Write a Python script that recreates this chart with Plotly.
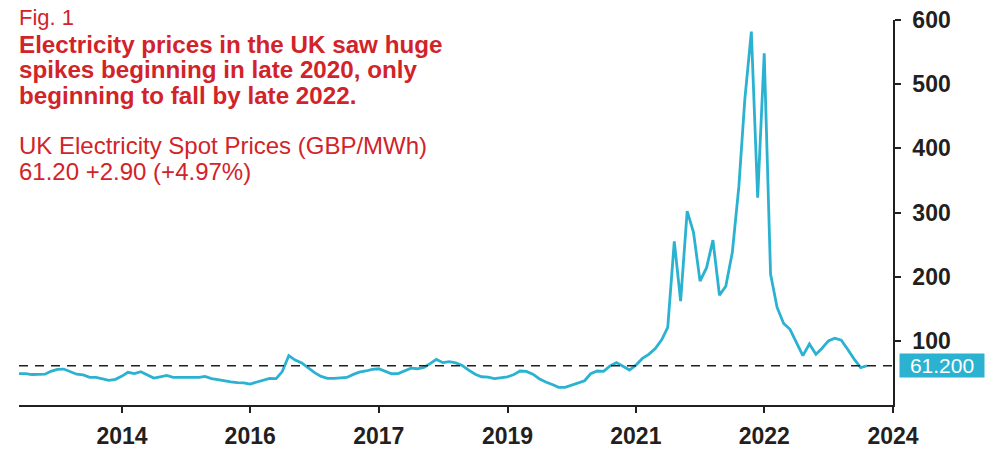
import pandas as pd
import plotly.graph_objects as go

# Monthly UK electricity spot prices (GBP/MWh)
start_month = "2012-10-01"
prices = [
    49, 49, 47.5, 48, 48, 52.5, 55.5, 56, 52, 48, 47, 43,
    43, 41, 38.5, 40, 45, 51, 49, 52, 47, 42, 44, 46,
    43, 43, 43, 43, 43, 44.5, 41, 39.5, 37.5, 36, 35, 34.5,
    32.7, 36, 38.5, 41.5, 41, 52, 77, 70, 65.5, 58, 50.5, 44.5,
    41.5, 41.5, 42, 43, 47.7, 51.3, 53, 55.5, 56.5, 52.4, 48.7, 49,
    53.4, 57.5, 56.5, 58.6, 64.8, 71, 66, 67.5, 65.5, 61.7, 54.4, 48,
    44, 43.5, 41, 43, 44, 47, 53, 52.4, 48, 41, 35.8, 32,
    27.5, 27.5, 31, 34.2, 37.8, 48.7, 53, 52.5, 61, 66, 59.6, 54.4,
    62, 72.6, 79, 88, 102, 121, 255, 162, 302, 269, 193, 214,
    257, 171, 185, 238, 341, 476, 582, 323, 548, 204, 152, 127,
    118, 97.5, 77, 95, 79, 88, 100, 104, 101, 87, 71.5, 58.3,
    61.2,
]
dates = pd.date_range(start_month, periods=len(prices), freq="MS")

last_price = prices[-1]

x_tick_dates = ["2014-02-01", "2015-10-01", "2017-06-01", "2019-02-01",
                "2020-10-01", "2022-06-01", "2024-02-01"]
x_tick_labels = ["2014", "2016", "2017", "2019", "2021", "2022", "2024"]
y_ticks = [100, 200, 300, 400, 500, 600]

RED = "#d2232a"
TEAL = "#2bb2d1"
INK = "#231f20"
FONT = "Liberation Sans, Arial, Helvetica, sans-serif"

W, H = 993, 449
M_L, M_R, M_T, M_B = 19, 100, 20, 44
PW = W - M_L - M_R
PH = H - M_T - M_B


def px_x(px):
    return (px - M_L) / PW


def px_y(py):
    return (H - M_B - py) / PH


fig = go.Figure()
fig.add_trace(go.Scatter(
    x=dates, y=prices, mode="lines",
    line=dict(color=TEAL, width=2.8),
    hoverinfo="x+y", showlegend=False,
))

# reference line at the latest price
fig.add_shape(type="line", xref="paper", yref="y", x0=0, x1=1,
              y0=last_price, y1=last_price,
              line=dict(color=INK, width=1.7, dash="9px,7px"))

# latest value tag on the right axis
fig.add_annotation(xref="paper", yref="y", x=px_x(899), y=last_price,
                   xanchor="left", yanchor="middle", showarrow=False,
                   text=f"{last_price:.3f}", bgcolor=TEAL,
                   width=82, height=21, borderpad=1, align="center",
                   font=dict(family=FONT, size=21, color="white"))

# heading block: (text, vertical centre in px, bold, font size)
heading = [
    ("Fig. 1", 17.5, False, 22),
    ("Electricity prices in the UK saw huge", 44.2, True, 24.2),
    ("spikes beginning in late 2020, only", 69.8, True, 24.2),
    ("beginning to fall by late 2022.", 95.3, True, 24.2),
    ("UK Electricity Spot Prices (GBP/MWh)", 145.5, False, 24),
    ("61.20 +2.90 (+4.97%)", 171.0, False, 24),
]
for text, ymid, bold, size in heading:
    fig.add_annotation(xref="paper", yref="paper", x=px_x(17), y=px_y(ymid),
                       xanchor="left", yanchor="middle", showarrow=False,
                       text=f"<b>{text}</b>" if bold else text,
                       font=dict(family=FONT, size=size, color=RED))

fig.update_layout(
    width=W, height=H,
    margin=dict(l=M_L, r=M_R, t=M_T, b=M_B, pad=0, autoexpand=False),
    paper_bgcolor="white", plot_bgcolor="white",
    font=dict(family=FONT, color=INK),
    xaxis=dict(
        type="date", range=["2012-10-01", "2024-02-01"], automargin=False,
        tickmode="array", tickvals=x_tick_dates, ticktext=x_tick_labels,
        ticks="outside", ticklen=6, tickwidth=1.5, tickcolor=INK,
        ticklabelstandoff=4,
        showline=True, linecolor=INK, linewidth=1.5,
        showgrid=False, zeroline=False,
        tickfont=dict(family=FONT, size=23, color=INK, weight="bold"),
    ),
    yaxis=dict(
        side="right", range=[0, 600], automargin=False,
        tickmode="array", tickvals=y_ticks,
        ticks="outside", ticklen=6, tickwidth=1.5, tickcolor=INK,
        ticklabelstandoff=7,
        showline=True, linecolor=INK, linewidth=1.5,
        showgrid=False, zeroline=False,
        tickfont=dict(family=FONT, size=23, color=INK, weight="bold"),
    ),
)

fig.write_html("out.html")
